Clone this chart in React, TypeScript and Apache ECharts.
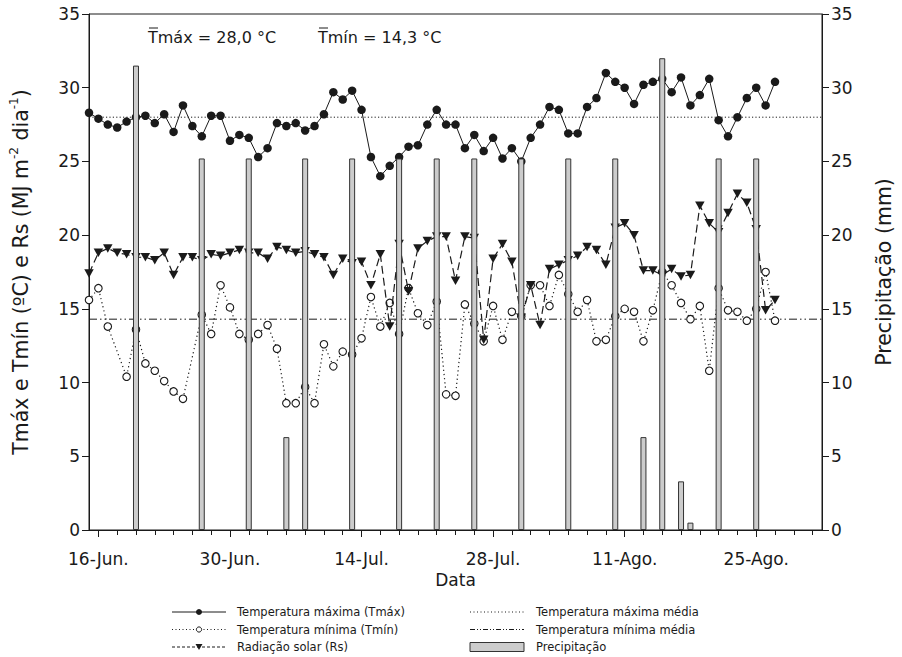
import React, { useEffect, useRef } from "react";
import * as echarts from "echarts";

// Day index: 0 = 16-Jun. Daily records run from 15-Jun (day -1) to 27-Ago (day 72).
const firstDay = -1;
const lastDay = 72;

const tmax = [
  28.3, 27.9, 27.5, 27.3, 27.7, 28.0, 28.1, 27.6, 28.2, 27.0, 28.8, 27.4, 26.7, 28.1, 28.1,
  26.4, 26.8, 26.6, 25.3, 25.9, 27.6, 27.4, 27.6, 27.1, 27.4, 28.2, 29.7, 29.2, 29.8, 28.5,
  25.3, 24.0, 24.7, 25.3, 26.0, 26.1, 27.5, 28.5, 27.5, 27.5, 25.9, 26.8, 25.7, 26.6, 25.2,
  25.9, 25.0, 26.6, 27.5, 28.7, 28.5, 26.9, 26.9, 28.7, 29.3, 31.0, 30.4, 30.0, 28.9, 30.2,
  30.4, 30.6, 29.7, 30.7, 28.8, 29.5, 30.6, 27.8, 26.7, 28.0, 29.3, 30.0, 28.8, 30.4,
];

const tmin: (number | null)[] = [
  15.6, 16.4, 13.8, null, 10.4, 13.6, 11.3, 10.8, 10.1, 9.4, 8.9, null, 14.6, 13.3, 16.6,
  15.1, 13.3, 12.9, 13.3, 13.9, 12.3, 8.6, 8.6, 9.7, 8.6, 12.6, 11.1, 12.1, 11.9, 13.0,
  15.8, 13.8, 15.4, 13.3, 16.4, 14.7, 13.9, 15.5, 9.2, 9.1, 15.3, 14.0, 12.8, 15.2, 12.9,
  14.8, 14.5, 16.6, 16.6, 15.2, 17.3, 16.0, 14.8, 15.6, 12.8, 12.9, 14.5, 15.0, 14.8, 12.8,
  14.9, 17.5, 16.6, 15.4, 14.3, 15.2, 10.8, 16.4, 14.9, 14.8, 14.2, 15.0, 17.5, 14.2,
];

const rs = [
  17.4, 18.8, 19.1, 18.8, 18.7, 18.5, 18.5, 18.3, 18.8, 17.3, 18.5, 18.5, 18.3, 18.7, 18.6,
  18.8, 19.0, 18.8, 18.8, 18.4, 19.2, 19.0, 18.8, 18.9, 18.7, 18.5, 17.3, 18.4, 18.1, 18.2,
  16.6, 18.7, 13.8, 19.4, 16.2, 19.1, 19.6, 19.9, 19.9, 16.9, 19.9, 19.8, 12.9, 18.4, 19.4,
  18.2, 14.4, 16.6, 13.9, 17.7, 18.0, 18.3, 18.6, 19.2, 19.0, 18.0, 20.5, 20.8, 20.0, 17.6,
  17.6, 17.3, 17.7, 17.2, 17.3, 22.0, 20.8, 20.2, 21.5, 22.8, 22.2, 20.4, 14.9, 15.6,
];

// Rain events (day index, mm)
const precipDays = [4, 11, 16, 20, 22, 27, 32, 36, 40, 45, 50, 55, 58, 60, 62, 63, 66, 70];
const precipMm = [31.5, 25.2, 25.2, 6.3, 25.2, 25.2, 25.2, 25.2, 25.2, 25.2, 25.2, 25.2, 6.3, 32.0, 3.3, 0.5, 25.2, 25.2];

const tmaxMean = 28.0;
const tminMean = 14.3;

const dateTickDays = [0, 14, 28, 42, 56, 70];
const dateTickLabels = ["16-Jun.", "30-Jun.", "14-Jul.", "28-Jul.", "11-Ago.", "25-Ago."];
const axisMinDay = -1;
const axisMaxDay = 77;

const FONT = "DejaVu Sans";
const INK = "#1a1a1a";

const days: number[] = [];
for (let d = firstDay; d <= lastDay; d++) days.push(d);
const minorTickDays: number[] = [];
for (let d = 0; d <= axisMaxDay; d += 2) minorTickDays.push(d);

const pair = (vals: (number | null)[]) => days.map((d, i) => [d, vals[i]]);

export default function App() {
  const ref = useRef<HTMLDivElement>(null);

  useEffect(() => {
    if (!ref.current) return;
    const chart = echarts.init(ref.current, null, { renderer: "svg" });

    const legendText = (x: number, y: number, text: string) => ({
      type: "text",
      x,
      y,
      style: { text, font: `11.5px "${FONT}"`, fill: INK, verticalAlign: "middle", align: "left" },
    });
    const legendLine = (x1: number, x2: number, y: number, dash: any) => ({
      type: "line",
      shape: { x1, y1: y, x2, y2: y },
      style: { stroke: INK, lineWidth: 1, lineDash: dash },
    });

    const c1 = 172, c1e = 226, t1 = 237;
    const c2 = 470, c2e = 524, t2 = 536;
    const r1 = 612, r2 = 629.5, r3 = 647;

    const tickFont = { fontFamily: FONT, fontSize: 17, color: INK };

    const option: any = {
      animation: false,
      grid: { left: 88, top: 14, width: 738, height: 516, show: true, borderColor: INK, borderWidth: 1 },
      xAxis: [
        {
          type: "value",
          position: "bottom",
          min: axisMinDay,
          max: axisMaxDay,
          axisLine: { show: true, onZero: false, lineStyle: { color: INK, width: 1 } },
          axisTick: { show: true, customValues: dateTickDays, length: 7, lineStyle: { color: INK } },
          axisLabel: {
            customValues: dateTickDays,
            formatter: (v: number) => dateTickLabels[dateTickDays.indexOf(Math.round(v))] ?? "",
            ...tickFont,
            margin: 20,
          },
          splitLine: { show: false },
          name: "Data",
          nameLocation: "middle",
          nameGap: 41,
          nameTextStyle: { fontFamily: FONT, fontSize: 17, color: INK },
        },
        {
          type: "value",
          position: "bottom",
          min: axisMinDay,
          max: axisMaxDay,
          axisLine: { show: false, onZero: false },
          axisTick: { show: true, customValues: minorTickDays, length: 5, lineStyle: { color: INK } },
          axisLabel: { show: false },
          splitLine: { show: false },
        },
      ],
      yAxis: [
        {
          type: "value",
          position: "left",
          min: 0,
          max: 35,
          interval: 5,
          axisLine: { show: true, onZero: false, lineStyle: { color: INK, width: 1 } },
          axisTick: { show: true, length: 7, lineStyle: { color: INK } },
          axisLabel: { ...tickFont, margin: 9 },
          splitLine: { show: false },
          name: "Tmáx e Tmín (ºC) e Rs (MJ m{sup|-2} dia{sup|-1})",
          nameLocation: "middle",
          nameRotate: 90,
          nameGap: 55,
          nameTextStyle: {
            fontFamily: FONT,
            fontSize: 20.5,
            color: INK,
            rich: { sup: { fontFamily: FONT, fontSize: 12, color: INK, verticalAlign: "top", lineHeight: 26 } },
          },
        },
        {
          type: "value",
          position: "right",
          min: 0,
          max: 35,
          interval: 5,
          axisLine: { show: true, onZero: false, lineStyle: { color: INK, width: 1 } },
          axisTick: { show: true, length: 7, lineStyle: { color: INK } },
          axisLabel: { ...tickFont, margin: 9 },
          splitLine: { show: false },
          name: "Precipitação (mm)",
          nameLocation: "middle",
          nameRotate: 90,
          nameGap: 51,
          nameTextStyle: { fontFamily: FONT, fontSize: 20.5, color: INK },
        },
      ],
      series: [
        {
          name: "Temperatura máxima média",
          type: "line",
          xAxisIndex: 0,
          data: [[axisMinDay, tmaxMean], [axisMaxDay, tmaxMean]],
          symbol: "none",
          lineStyle: { color: INK, width: 1, type: [1.2, 2.2] },
          silent: true,
          z: 1,
        },
        {
          name: "Temperatura mínima média",
          type: "line",
          xAxisIndex: 0,
          data: [[axisMinDay, tminMean], [axisMaxDay, tminMean]],
          symbol: "none",
          lineStyle: { color: INK, width: 1, type: [8, 3, 1.5, 3, 1.5, 3] },
          silent: true,
          z: 1,
        },
        {
          name: "Temperatura máxima (Tmáx)",
          type: "line",
          xAxisIndex: 0,
          data: pair(tmax),
          symbol: "circle",
          symbolSize: 8.5,
          itemStyle: { color: INK },
          lineStyle: { color: INK, width: 1 },
          z: 2,
        },
        {
          name: "Temperatura mínima (Tmín)",
          type: "line",
          xAxisIndex: 0,
          data: pair(tmin),
          connectNulls: true,
          symbol: "circle",
          symbolSize: 7.5,
          itemStyle: { color: "#ffffff", borderColor: INK, borderWidth: 1.1 },
          lineStyle: { color: INK, width: 1.2, type: [1.2, 3] },
          z: 2,
        },
        {
          name: "Radiação solar (Rs)",
          type: "line",
          xAxisIndex: 0,
          data: pair(rs),
          symbol: "triangle",
          symbolRotate: 180,
          symbolSize: [9.5, 8.5],
          itemStyle: { color: INK },
          lineStyle: { color: INK, width: 1.2, type: [8, 4] },
          z: 3,
        },
        {
          name: "Precipitação",
          type: "bar",
          xAxisIndex: 0,
          yAxisIndex: 1,
          data: precipDays.map((d, i) => [d, precipMm[i]]),
          barWidth: 6,
          itemStyle: { color: "#cccccc", borderColor: "#333333", borderWidth: 1 },
          z: 5,
        },
      ],
      graphic: [
        { type: "text", x: 148, y: 37, style: { text: "Tmáx = 28,0 °C", font: `16px "${FONT}"`, fill: INK, verticalAlign: "middle" } },
        { type: "line", shape: { x1: 149, y1: 28, x2: 158, y2: 28 }, style: { stroke: INK, lineWidth: 1 } },
        { type: "text", x: 318, y: 37, style: { text: "Tmín = 14,3 °C", font: `16px "${FONT}"`, fill: INK, verticalAlign: "middle" } },
        { type: "line", shape: { x1: 319, y1: 28, x2: 328, y2: 28 }, style: { stroke: INK, lineWidth: 1 } },

        // legend, first column
        legendLine(c1, c1e, r1, null),
        { type: "circle", shape: { cx: (c1 + c1e) / 2, cy: r1, r: 3 }, style: { fill: INK } },
        legendText(t1, r1, "Temperatura máxima (Tmáx)"),
        legendLine(c1, c1e, r2, [1, 2.5]),
        { type: "circle", shape: { cx: (c1 + c1e) / 2, cy: r2, r: 2.6 }, style: { fill: "#fff", stroke: INK, lineWidth: 1 } },
        legendText(t1, r2, "Temperatura mínima (Tmín)"),
        legendLine(c1, c1e, r3, [3, 2]),
        {
          type: "polygon",
          shape: { points: [[(c1 + c1e) / 2 - 3.5, r3 - 3], [(c1 + c1e) / 2 + 3.5, r3 - 3], [(c1 + c1e) / 2, r3 + 3]] },
          style: { fill: INK },
        },
        legendText(t1, r3, "Radiação solar (Rs)"),

        // legend, second column
        legendLine(c2, c2e, r1, [1, 2.5]),
        legendText(t2, r1, "Temperatura máxima média"),
        legendLine(c2, c2e, r2, [5, 2, 1, 2, 1, 2]),
        legendText(t2, r2, "Temperatura mínima média"),
        { type: "rect", shape: { x: c2, y: r3 - 4.5, width: c2e - c2, height: 9 }, style: { fill: "#cccccc", stroke: "#333", lineWidth: 1 } },
        legendText(t2, r3, "Precipitação"),
      ],
    };

    chart.setOption(option);
    return () => chart.dispose();
  }, []);

  return (
    <div
      ref={ref}
      style={{ position: "absolute", left: 0, top: 0, width: 902, height: 657, background: "#ffffff" }}
    />
  );
}
